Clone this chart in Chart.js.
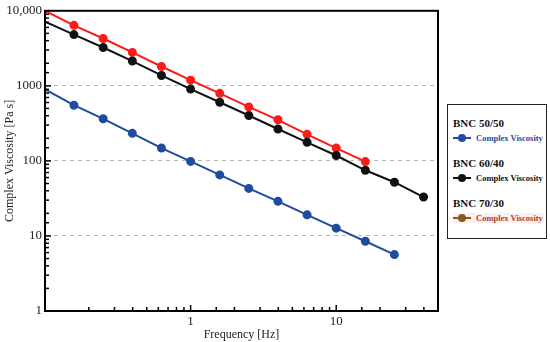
<!DOCTYPE html>
<html>
<head>
<meta charset="utf-8">
<script src="https://cdn.jsdelivr.net/npm/chart.js@4"></script>
<style>
  body { margin: 0; background: #fff; }
  .wrap { position: relative; width: 550px; height: 342px; }
  .legend-box {
    position: absolute; left: 447px; top: 104px; width: 100px; height: 135px;
    border: 1px solid #222; box-sizing: border-box; background: #fff;
    font-family: "Liberation Serif", serif;
  }
  .legend-group { position: absolute; left: 5px; right: 2px; }
  .legend-group h4 { margin: 0; font-size: 11px; font-weight: bold; color: #111; }
  .legend-item { display: flex; align-items: center; margin-top: 4px; font-size: 8.5px; font-weight: bold; white-space: nowrap; }
  .legend-item .mark { position: relative; width: 18px; height: 2px; margin-right: 5px; flex: none; }
  .legend-item .mark::after {
    content: ''; position: absolute; left: 5px; top: -3px; width: 8px; height: 8px;
    border-radius: 50%; background: inherit;
  }
</style>
</head>
<body>
<div class="wrap">
  <canvas id="viscChart" width="550" height="342"></canvas>
  <div class="legend-box" id="legend"></div>
</div>
<script>
// frequencies [Hz]
const frequency = [0.1, 0.158, 0.251, 0.398, 0.631, 1, 1.585, 2.51, 3.98, 6.31, 10, 15.85, 25.1, 39.8];

// complex viscosity [Pa s]
const bnc5050 = [898, 552, 364, 233, 148, 98.5, 65, 43, 28.9, 19.1, 12.7, 8.5, 5.65];
const bnc6040 = [7160, 4820, 3245, 2140, 1375, 906, 604, 403, 266, 177, 118, 75, 52, 33];
const bnc7030 = [10000, 6400, 4270, 2790, 1810, 1190, 795, 524, 353, 226, 148, 98];

const sampleNames = ['BNC 50/50', 'BNC 60/40', 'BNC 70/30'];
const seriesLabel = 'Complex Viscosity';
const yLabels = [1, 10, 100, 1000, 10000];
const xLabels = [1, 10];

const lineColors = ['#1f4c9e', '#111111', '#ff1a1a'];
const legendColors = ['#1f4c9e', '#111111', '#8a5a1a'];
const legendText = ['#1f4c9e', '#111111', '#b0402a'];

function toPoints(vals) {
  return vals.map((v, i) => ({ x: frequency[i], y: v }));
}

const seriesValues = [bnc5050, bnc6040, bnc7030];

const datasets = seriesValues.map((vals, i) => ({
  label: sampleNames[i],
  data: toPoints(vals),
  borderColor: lineColors[i],
  backgroundColor: lineColors[i],
  borderWidth: 2,
  pointRadius: ctx => ctx.dataIndex === 0 ? 0 : 3.5,
  pointHoverRadius: 4,
  tension: 0
}));

// html legend
const legendEl = document.getElementById('legend');
const groupTops = [12, 52, 92];
sampleNames.forEach((name, i) => {
  const g = document.createElement('div');
  g.className = 'legend-group';
  g.style.top = groupTops[i] + 'px';
  g.innerHTML = `<h4>${name}</h4>
    <div class="legend-item" style="color:${legendText[i]};${i === 2 ? 'background:#fdeef0;' : ''}">
      <span class="mark" style="background:${legendColors[i]}"></span>${seriesLabel}
    </div>`;
  legendEl.appendChild(g);
});

const FONT = '"Liberation Serif", serif';

// inward tick marks + frame
const frameTicks = {
  id: 'frameTicks',
  afterDraw(chart) {
    const { ctx, chartArea: a, scales } = chart;
    ctx.save();
    ctx.strokeStyle = '#000';
    ctx.lineWidth = 1.5;
    scales.x.ticks.forEach(t => {
      const px = scales.x.getPixelForValue(t.value);
      if (px < a.left + 1 || px > a.right - 1) return;
      const major = xLabels.includes(t.value);
      ctx.beginPath();
      ctx.moveTo(px, a.bottom);
      ctx.lineTo(px, a.bottom - (major ? 6 : 4));
      ctx.stroke();
    });
    scales.y.ticks.forEach(t => {
      const py = scales.y.getPixelForValue(t.value);
      if (py < a.top + 1 || py > a.bottom - 1) return;
      const major = yLabels.includes(t.value);
      ctx.beginPath();
      ctx.moveTo(a.left, py);
      ctx.lineTo(a.left + (major ? 6 : 4), py);
      ctx.stroke();
    });
    ctx.lineWidth = 2;
    ctx.strokeRect(a.left, a.top, a.right - a.left, a.bottom - a.top);
    ctx.restore();
  }
};

new Chart(document.getElementById('viscChart'), {
  type: 'line',
  data: { datasets },
  options: {
    responsive: false,
    animation: false,
    layout: { padding: { top: 0, right: 112, left: 0, bottom: 0 } },
    plugins: {
      legend: { display: false },
      tooltip: { enabled: false }
    },
    scales: {
      x: {
        type: 'logarithmic',
        min: 0.1,
        max: 50,
        afterFit: s => { s.height = 31; },
        grid: { display: false, drawTicks: false },
        border: { display: true, color: '#000', width: 2 },
        ticks: {
          autoSkip: false,
          maxRotation: 0,
          color: '#222',
          padding: 3,
          font: { family: FONT, size: 13 },
          callback: v => xLabels.includes(v) ? String(v) : ''
        },
        title: { display: true, text: 'Frequency [Hz]', color: '#222', padding: { top: 0, bottom: 0 }, font: { family: FONT, size: 12 } }
      },
      y: {
        type: 'logarithmic',
        min: 1,
        max: 10000,
        afterFit: s => { s.width = 45; },
        grid: {
          drawTicks: false,
          color: c => (c.tick && [10, 100, 1000].includes(c.tick.value)) ? '#b5b5b5' : 'rgba(0,0,0,0)',
          lineWidth: 1
        },
        border: { display: true, color: '#000', width: 2, dash: [4, 4] },
        ticks: {
          autoSkip: false,
          color: '#222',
          padding: 3,
          font: { family: FONT, size: 13 },
          callback: v => yLabels.includes(v) ? (v === 10000 ? '10,000' : String(v)) : ''
        },
        title: { display: true, text: 'Complex Viscosity [Pa s]', color: '#222', padding: { top: 3, bottom: 0 }, font: { family: FONT, size: 12 } }
      }
    }
  },
  plugins: [frameTicks]
});
</script>
</body>
</html>
